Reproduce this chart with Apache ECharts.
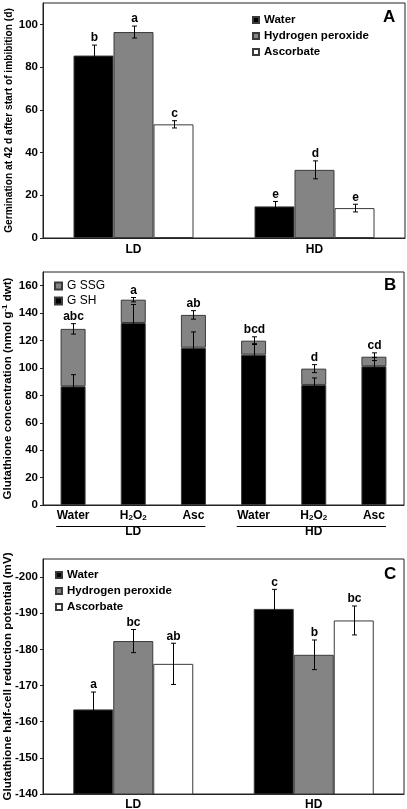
<!DOCTYPE html>
<html><head><meta charset="utf-8">
<script src="https://cdn.jsdelivr.net/npm/echarts@6/dist/echarts.min.js"></script>
<style>html,body{margin:0;padding:0;background:#fff}#c{width:407px;height:809px}</style>
</head><body><div id="c"></div>
<script>
// ---------- Panel A: germination ----------
const categoriesA = ['LD', 'HD'];
const seriesNames = ['Water', 'Hydrogen peroxide', 'Ascorbate'];
const waterA = [85.4, 14.8];
const waterErrA = [4.9, 2.3];
const waterLetA = ['b', 'e'];
const h2o2A = [96.4, 31.9];
const h2o2ErrA = [2.8, 4.2];
const h2o2LetA = ['a', 'd'];
const ascA = [53.2, 14.0];
const ascErrA = [1.7, 1.8];
const ascLetA = ['c', 'e'];
const yTicksA = [0, 20, 40, 60, 80, 100];

// ---------- Panel B: glutathione concentration ----------
const treatmentsB = ['Water', 'H2O2', 'Asc', 'Water', 'H2O2', 'Asc'];
const groupsB = ['LD', 'HD'];
const gshB = [86.6, 132.8, 114.8, 109.7, 87.6, 101.2];
const gshErrB = [8.5, 13.5, 11.5, 8.0, 5.1, 6.5];
const gssgB = [41.9, 17.0, 23.9, 10.2, 11.9, 7.0];
const totalErrB = [3.8, 1.6, 3.1, 2.8, 2.9, 2.8];
const lettersB = ['abc', 'a', 'ab', 'bcd', 'd', 'cd'];
const yTicksB = [0, 20, 40, 60, 80, 100, 120, 140, 160];

// ---------- Panel C: half-cell reduction potential ----------
const categoriesC = ['LD', 'HD'];
const waterC = [-163.4, -191.2];
const waterErrC = [4.8, 5.4];
const waterLetC = ['a', 'c'];
const h2o2C = [-182.3, -178.5];
const h2o2ErrC = [3.2, 4.1];
const h2o2LetC = ['bc', 'b'];
const ascC = [-176.0, -188.0];
const ascErrC = [5.7, 4.0];
const ascLetC = ['ab', 'bc'];
const yTicksC = [-200, -190, -180, -170, -160, -150, -140];

const FONT = '"Liberation Sans", Arial, sans-serif';
const GRAY = '#848484';
const BORDER = '#3a3a3a';
const AXIS = '#222';

function errRender(offset, letters) {
  return function (params, api) {
    const i = api.value(0), v = api.value(1), e = api.value(2);
    const p = api.coord([i, v]);
    const a = api.coord([i, v + e]);
    const b = api.coord([i, v - e]);
    const x = Math.round(p[0] + offset) + 0.5;
    const yTop = Math.min(a[1], b[1]), yBot = Math.max(a[1], b[1]);
    const w = 2.5;
    const st = { stroke: '#000', lineWidth: 1 };
    const children = [
      { type: 'line', shape: { x1: x, y1: yTop, x2: x, y2: yBot }, style: st },
      { type: 'line', shape: { x1: x - w, y1: yTop, x2: x + w, y2: yTop }, style: st },
      { type: 'line', shape: { x1: x - w, y1: yBot, x2: x + w, y2: yBot }, style: st }
    ];
    if (letters && letters[params.dataIndex]) {
      children.push({ type: 'text', style: { x: x, y: yTop - 1, text: letters[params.dataIndex], align: 'center', verticalAlign: 'bottom', fontFamily: FONT, fontWeight: 'bold', fontSize: 12, fill: '#000' } });
    }
    return { type: 'group', children: children };
  };
}
function errData(vals, errs) { return vals.map((v, i) => [i, v, errs[i]]); }

const barBase = (name, color, data, xi, yi, width) => ({
  name: name, type: 'bar', data: data, xAxisIndex: xi, yAxisIndex: yi,
  barWidth: width, barGap: '0%', clip: true,
  itemStyle: { color: color, borderColor: BORDER, borderWidth: 1 }
});
const errSeries = (vals, errs, letters, offset, xi, yi) => ({
  type: 'custom', xAxisIndex: xi, yAxisIndex: yi, z: 5,
  data: errData(vals, errs), renderItem: errRender(offset, letters),
  silent: true
});

const yAxisCommon = (gi, min, max, ticks, name, nameFont, inverse) => ({
  gridIndex: gi, type: 'value', min: min, max: max, inverse: !!inverse,
  name: name, nameLocation: 'middle', nameGap: 29, nameMoveOverlap: false,
  nameTextStyle: { fontFamily: FONT, fontWeight: 'bold', fontSize: nameFont, color: '#000' },
  axisLine: { show: true, lineStyle: { color: AXIS, width: 1 } },
  axisTick: { show: true, length: 3, customValues: ticks, lineStyle: { color: AXIS } },
  axisLabel: { customValues: ticks, margin: 5, fontFamily: FONT, fontWeight: 'bold', fontSize: 11.5, color: '#000' },
  splitLine: { show: false }
});

const chart = echarts.init(document.getElementById('c'), null, { renderer: 'canvas' });

const yB = yAxisCommon(1, 0, 170, yTicksB, 'Glutathione concentration (nmol g{sup|-1} dwt)', 11.5);
yB.nameTextStyle.rich = { sup: { fontFamily: FONT, fontWeight: 'bold', fontSize: 8, color: '#000', verticalAlign: 'top', padding: [0, 0, 5, 0] } };

const legendText = { fontFamily: FONT, fontWeight: 'bold', fontSize: 11.5, color: '#000' };
const gridBase = { show: true, borderColor: AXIS, borderWidth: 1, containLabel: false, outerBoundsMode: 'none' };

const option = {
  animation: false,
  backgroundColor: '#fff',
  title: [
    { text: 'A', left: 378, top: 4, padding: 5, textStyle: { fontFamily: FONT, fontWeight: 'bold', fontSize: 17, color: '#000' } },
    { text: 'B', left: 379, top: 272, padding: 5, textStyle: { fontFamily: FONT, fontWeight: 'bold', fontSize: 17, color: '#000' } },
    { text: 'C', left: 379, top: 561, padding: 5, textStyle: { fontFamily: FONT, fontWeight: 'bold', fontSize: 17, color: '#000' } }
  ],
  legend: [
    { data: seriesNames, orient: 'vertical', left: 252, top: 14, padding: 0, icon: 'rect', itemWidth: 6, itemHeight: 6, itemGap: 4, selectedMode: false,
      textStyle: legendText },
    { data: ['G SSG', 'G SH'], orient: 'vertical', left: 54, top: 280, padding: 0, icon: 'rect', itemWidth: 7, itemHeight: 7, itemGap: 3, selectedMode: false,
      textStyle: { fontFamily: FONT, fontSize: 12, color: '#000' } },
    { data: seriesNames, orient: 'vertical', left: 55, top: 569, padding: 0, icon: 'rect', itemWidth: 6, itemHeight: 6, itemGap: 4, selectedMode: false,
      textStyle: legendText }
  ],
  grid: [
    Object.assign({ left: 43, top: 3, width: 362, height: 235 }, gridBase),
    Object.assign({ left: 43, top: 272, width: 361, height: 233 }, gridBase),
    Object.assign({ left: 43, top: 559, width: 361, height: 235 }, gridBase)
  ],
  xAxis: [
    { gridIndex: 0, type: 'category', data: categoriesA,
      axisLine: { lineStyle: { color: AXIS } }, axisTick: { inside: true, length: 2, lineStyle: { color: AXIS } },
      axisLabel: { margin: 6, fontFamily: FONT, fontWeight: 'bold', fontSize: 12, color: '#000' } },
    { gridIndex: 1, type: 'category', data: treatmentsB,
      axisLine: { lineStyle: { color: AXIS } }, axisTick: { inside: true, length: 2, lineStyle: { color: AXIS } },
      axisLabel: { interval: 0, margin: 5, fontFamily: FONT, fontWeight: 'bold', fontSize: 12, color: '#000',
        formatter: v => v === 'H2O2' ? 'H{sub|2}O{sub|2}' : v,
        rich: { sub: { fontFamily: FONT, fontWeight: 'bold', fontSize: 8, verticalAlign: 'bottom', padding: [4, 0, 0, 0] } } } },
    { gridIndex: 1, type: 'category', data: groupsB, position: 'bottom', offset: 21,
      axisLine: { show: false }, axisTick: { show: false },
      axisLabel: { interval: 0, margin: 0, fontFamily: FONT, fontWeight: 'bold', fontSize: 12, color: '#000' } },
    { gridIndex: 2, type: 'category', data: categoriesC,
      axisLine: { lineStyle: { color: AXIS } }, axisTick: { inside: true, length: 2, lineStyle: { color: AXIS } },
      axisLabel: { margin: 5, fontFamily: FONT, fontWeight: 'bold', fontSize: 12, color: '#000' } }
  ],
  yAxis: [
    yAxisCommon(0, 0, 110, yTicksA, 'Germination at 42 d after start of imbibition (d)', 10.2),
    yB,
    yAxisCommon(2, -205, -140, yTicksC, 'Glutathione half-cell reduction potential (mV)', 11.6, true)
  ],
  series: [
    barBase('Water', '#000', waterA, 0, 0, 40),
    barBase('Hydrogen peroxide', GRAY, h2o2A, 0, 0, 40),
    barBase('Ascorbate', '#fff', ascA, 0, 0, 40),
    errSeries(waterA, waterErrA, waterLetA, -40, 0, 0),
    errSeries(h2o2A, h2o2ErrA, h2o2LetA, 0, 0, 0),
    errSeries(ascA, ascErrA, ascLetA, 40, 0, 0),

    Object.assign(barBase('G SH', '#000', gshB, 1, 1, 25), { stack: 'glu' }),
    Object.assign(barBase('G SSG', GRAY, gssgB, 1, 1, 25), { stack: 'glu' }),
    errSeries(gshB, gshErrB, null, 0, 1, 1),
    errSeries(gshB.map((g, i) => g + gssgB[i]), totalErrB, lettersB, 0, 1, 1),

    barBase('Water', '#000', waterC, 3, 2, 40),
    barBase('Hydrogen peroxide', GRAY, h2o2C, 3, 2, 40),
    barBase('Ascorbate', '#fff', ascC, 3, 2, 40),
    errSeries(waterC, waterErrC, waterLetC, -40, 3, 2),
    errSeries(h2o2C, h2o2ErrC, h2o2LetC, 0, 3, 2),
    errSeries(ascC, ascErrC, ascLetC, 40, 3, 2)
  ]
};
chart.setOption(option);

// underline bars under LD / HD group labels in panel B
const yAxisPix = chart.convertToPixel({ yAxisIndex: 1 }, 0);
const cx = i => chart.convertToPixel({ xAxisIndex: 1 }, i);
const band = cx(1) - cx(0);
const ly = Math.round(yAxisPix + 21) + 0.5;
chart.setOption({
  graphic: [
    { type: 'line', shape: { x1: cx(0) - 0.28 * band, y1: ly, x2: cx(2) + 0.2 * band, y2: ly }, style: { stroke: '#000', lineWidth: 1 } },
    { type: 'line', shape: { x1: cx(3) - 0.28 * band, y1: ly, x2: cx(5) + 0.2 * band, y2: ly }, style: { stroke: '#000', lineWidth: 1 } }
  ]
});
</script>
</body></html>
